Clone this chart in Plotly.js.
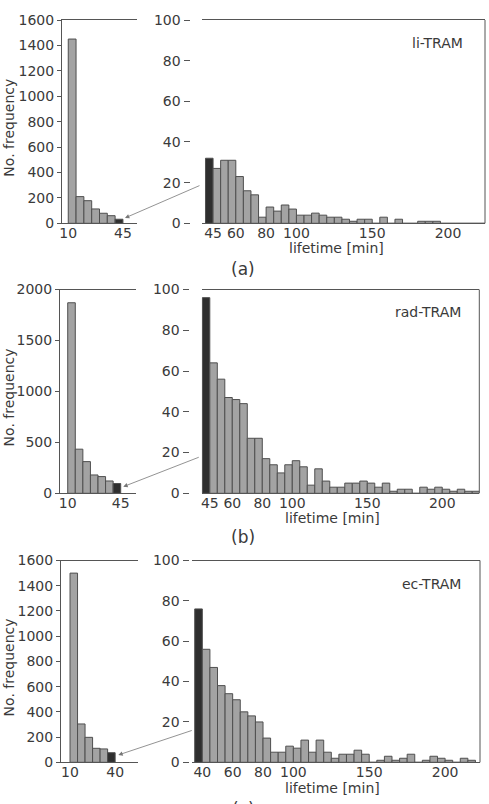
<!DOCTYPE html>
<html>
<head>
<meta charset="utf-8">
<script src="https://cdn.plot.ly/plotly-3.0.1.min.js"></script>
<style>html,body{margin:0;padding:0;background:#fff;}#chart{width:489px;height:804px;}</style>
</head>
<body>
<div id="chart"></div>
<script>
// ---- data (bin start in minutes, counts) ----
const binsLeftA = [10,15,20,25,30,35,40];
const countsLeftA = [1450,210,178,113,79,60,32];
const binsRightA = [40,45,50,55,60,65,70,75,80,85,90,95,100,105,110,115,120,125,130,135,140,145,150,155,160,165,170,175,180,185,190,195,200,205,210,215,220];
const countsRightA = [32,27,31,31,23,16,14,3,8,6,9,7,4,4,5,4,3,3,2,1,2,2,0,3,0,2,0,0,1,1,1,0,0,0,0,0,0];

const binsLeftB = [10,15,20,25,30,35,40];
const countsLeftB = [1870,433,311,180,164,121,96];
const binsRightB = [40,45,50,55,60,65,70,75,80,85,90,95,100,105,110,115,120,125,130,135,140,145,150,155,160,165,170,175,180,185,190,195,200,205,210,215,220];
const countsRightB = [96,64,56,47,46,44,27,27,17,14,10,14,16,13,4,12,6,3,3,5,5,6,5,3,5,1,2,2,0,3,2,3,2,1,2,1,1];

const binsLeftC = [10,15,20,25,30,35];
const countsLeftC = [1500,304,198,111,106,76];
const binsRightC = [35,40,45,50,55,60,65,70,75,80,85,90,95,100,105,110,115,120,125,130,135,140,145,150,155,160,165,170,175,180,185,190,195,200,205,210,215];
const countsRightC = [76,56,47,38,34,31,25,23,20,12,5,5,8,7,11,5,11,5,2,4,4,6,4,0,1,3,1,2,4,0,1,3,2,1,0,2,1];

const panelNames = ['li-TRAM','rad-TRAM','ec-TRAM'];
const captions = ['(a)','(b)','(c)'];
const leftTicks = [[10,45],[10,45],[10,40]];
const rightTicks = [[45,60,80,100,150,200],[45,60,80,100,150,200],[40,60,80,100,150,200]];

// ---- style ----
const W = 489, H = 804;
const FONT = 'DejaVu Sans, Arial, sans-serif';
const TXT = '#3a3a3a';
const GREY = '#a3a3a3', DARK = '#2e2e2e', EDGE = '#4f4f4f', AX = '#555555';
const px = v => v / W;
const py = v => 1 - v / H;

function colorsLast(n){ return Array.from({length:n}, (_, i) => i === n-1 ? DARK : GREY); }
function colorsFirst(n){ return Array.from({length:n}, (_, i) => i === 0 ? DARK : GREY); }

function barTrace(xs, ys, cols, xa, ya){
  return {type:'bar', x: xs, y: ys, width: 5, offset: 0, xaxis: xa, yaxis: ya,
    marker:{color: cols, line:{color: EDGE, width: 1}}, hoverinfo:'skip', showlegend:false};
}

const data = [
  barTrace(binsLeftA, countsLeftA, colorsLast(countsLeftA.length), 'x', 'y'),
  barTrace(binsRightA, countsRightA, colorsFirst(countsRightA.length), 'x2', 'y2'),
  barTrace(binsLeftB, countsLeftB, colorsLast(countsLeftB.length), 'x3', 'y3'),
  barTrace(binsRightB, countsRightB, colorsFirst(countsRightB.length), 'x4', 'y4'),
  barTrace(binsLeftC, countsLeftC, colorsLast(countsLeftC.length), 'x5', 'y5'),
  barTrace(binsRightC, countsRightC, colorsFirst(countsRightC.length), 'x6', 'y6'),
];

// panel geometry in pixels
const rows = [
  {yTop:20,    yBot:223.3, L:[62,137],   Lr:[6,54],    R:[201.7,485],   Rr:[37.5,224.4], yPos:189.5, Ly:[0,1600], Ldt:200,
   lbl:{x:336, y:248}, cap:{x:243, y:269}, name:{x:465, y:43},  arrow:{hx:46.3, hy:42, ax:76, ay:-33}},
  {yTop:289.5, yBot:493.3, L:[60,136],   Lr:[4.9,55.1], R:[201.7,479.3], Rr:[39.6,224.7], yPos:188.5, Ly:[0,2000], Ldt:500,
   lbl:{x:332.5, y:518}, cap:{x:243, y:537}, name:{x:463, y:311.5}, arrow:{hx:46.7, hy:65, ax:77, ay:-30}},
  {yTop:560.5, yBot:762.3, L:[61,137.7], Lr:[4,55],    R:[191.7,480],   Rr:[33,223],     yPos:188.5, Ly:[0,1600], Ldt:200,
   lbl:{x:332.5, y:788}, cap:{x:243, y:809}, name:{x:463, y:583.5}, arrow:{hx:42.1, hy:58, ax:75, ay:-25}},
];

const layout = {
  width: W, height: H, margin:{l:0,r:0,t:0,b:0}, paper_bgcolor:'#fff', plot_bgcolor:'#fff',
  bargap: 0, font:{family: FONT, size: 14, color: TXT}, showlegend:false,
  annotations: [], shapes: []
};

const tickFont = {family: FONT, size: 14, color: TXT};
rows.forEach((r, k) => {
  const li = 2*k + 1, ri = 2*k + 2;
  const sfx = n => n === 1 ? '' : String(n);
  const yd = [py(r.yBot), py(r.yTop)];
  layout['xaxis' + sfx(li)] = {domain:[px(r.L[0]), px(r.L[1])], range: r.Lr, anchor:'y' + sfx(li),
    showline:true, mirror:true, linecolor:AX, linewidth:1, showgrid:false, zeroline:false,
    tickmode:'array', tickvals: leftTicks[k], ticks:'', ticklabelstandoff:-3, tickfont: tickFont};
  layout['yaxis' + sfx(li)] = {domain: yd, range: r.Ly, anchor:'x' + sfx(li),
    showline:true, linecolor:AX, linewidth:1, showgrid:false, zeroline:false,
    dtick: r.Ldt, tick0:0, ticks:'outside', ticklen:4, tickcolor:AX, tickfont: tickFont};
  layout['xaxis' + ri] = {domain:[px(r.R[0]), px(r.R[1])], range: r.Rr, anchor:'y' + ri,
    showline:true, mirror:true, linecolor:AX, linewidth:1, showgrid:false, zeroline:false,
    tickmode:'array', tickvals: rightTicks[k], ticks:'', ticklabelstandoff:-3, tickfont: tickFont};
  layout['yaxis' + ri] = {domain: yd, range:[0,100], anchor:'free', position: px(r.yPos),
    showline:false, showgrid:false, zeroline:false, dtick:20, tick0:0,
    ticks:'outside', ticklen:6, tickcolor:AX, tickfont: tickFont};
  // right spine of right panel
  layout.shapes.push({type:'line', xref:'x' + ri + ' domain', yref:'y' + ri + ' domain',
    x0:1, x1:1, y0:0, y1:1, line:{color:AX, width:1}});
  // texts
  layout.annotations.push({xref:'paper', yref:'paper', x: px(r.name.x), y: py(r.name.y),
    xanchor:'right', yanchor:'middle', text: panelNames[k], showarrow:false, font:{family:FONT, size:14, color:TXT}});
  layout.annotations.push({xref:'paper', yref:'paper', x: px(r.lbl.x), y: py(r.lbl.y),
    xanchor:'center', yanchor:'middle', text:'lifetime [min]', showarrow:false, font:{family:FONT, size:14, color:TXT}});
  layout.annotations.push({xref:'paper', yref:'paper', x: px(r.cap.x), y: py(r.cap.y),
    xanchor:'center', yanchor:'middle', text: captions[k], showarrow:false, font:{family:FONT, size:17, color:TXT}});
  layout.annotations.push({xref:'paper', yref:'paper', x: px(9), y: py((r.yTop + r.yBot)/2 + 6),
    xanchor:'center', yanchor:'middle', textangle:-90, text:'No. frequency', showarrow:false, font:{family:FONT, size:14, color:TXT}});
  // connector arrow from zoomed panel to the dark bar of the overview panel
  layout.annotations.push({xref:'x' + sfx(li), yref:'y' + sfx(li), x: r.arrow.hx, y: r.arrow.hy,
    ax: r.arrow.ax, ay: r.arrow.ay, axref:'pixel', ayref:'pixel', text:'', showarrow:true,
    arrowhead:2, arrowsize:1.1, arrowwidth:0.8, arrowcolor:'#777', standoff:0});
});

Plotly.newPlot('chart', data, layout, {staticPlot:true, displayModeBar:false});
</script>
</body>
</html>
